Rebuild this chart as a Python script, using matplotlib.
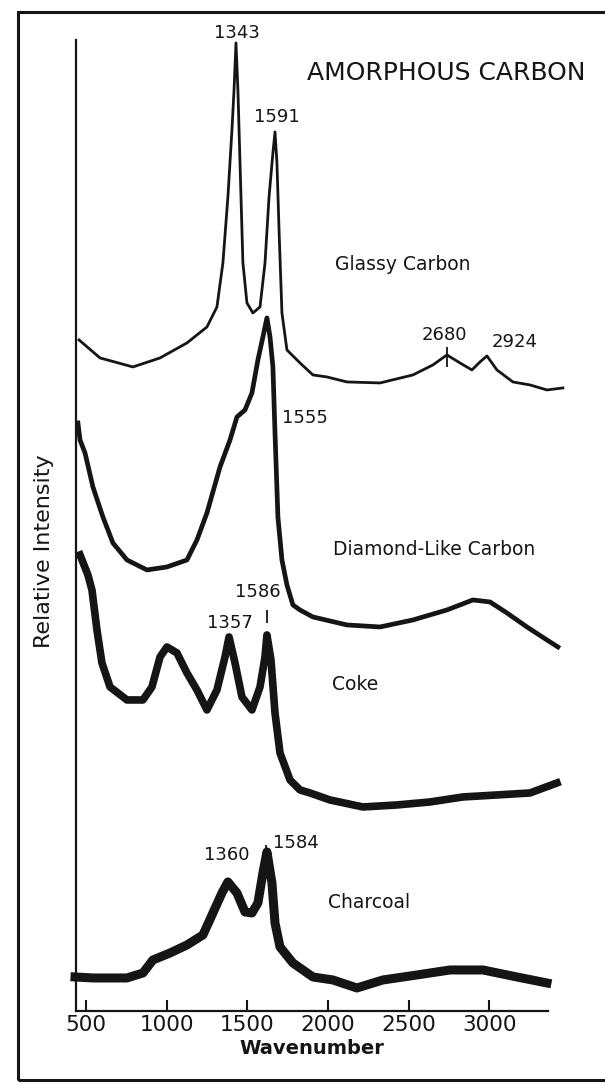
import matplotlib
matplotlib.use("Agg")
import matplotlib.pyplot as plt
from matplotlib.patches import Rectangle

# Raman spectra (stacked, arbitrary intensity units)
gc_wn = [457, 587, 791, 959, 1126, 1250, 1312, 1349, 1380, 1405, 1418, 1430, 1442, 1455,
         1473, 1498, 1535, 1579, 1610, 1635, 1659, 1672, 1684, 1697, 1715, 1746, 1827,
         1907, 1994, 2118, 2323, 2527, 2651, 2738, 2819, 2893, 2943, 2986, 3048, 3147,
         3253, 3358, 3457]
gc_int = [671, 653, 644, 653, 668, 684, 704, 748, 814, 881, 921, 968, 921, 848,
          748, 708, 698, 704, 748, 814, 858, 879, 848, 781, 698, 661, 648,
          636, 634, 629, 628, 636, 646, 656, 648, 641, 649, 655, 641, 629,
          626, 621, 623]

dlc_wn = [450, 463, 494, 543, 605, 667, 754, 878, 1002, 1126, 1188, 1250, 1331, 1393,
          1436, 1486, 1529, 1566, 1597, 1622, 1641, 1659, 1672, 1690, 1715, 1746, 1783,
          1827, 1907, 2118, 2323, 2527, 2738, 2899, 3005, 3110, 3234, 3358, 3426]
dlc_int = [588, 571, 558, 524, 494, 468, 451, 441, 444, 451, 471, 498, 544, 571,
           594, 601, 618, 651, 674, 693, 674, 644, 578, 494, 451, 426, 406,
           401, 394, 386, 384, 391, 401, 411, 409, 398, 384, 371, 364]

coke_wn = [463, 512, 537, 568, 599, 649, 754, 853, 909, 959, 1002, 1064, 1126, 1188,
           1250, 1312, 1362, 1387, 1424, 1467, 1529, 1579, 1610, 1622, 1647, 1672, 1703,
           1765, 1827, 1889, 2013, 2217, 2428, 2633, 2837, 3048, 3253, 3420]
coke_int = [456, 436, 421, 381, 348, 324, 311, 311, 324, 354, 364, 358, 338, 321,
            301, 321, 354, 374, 348, 314, 301, 324, 354, 376, 351, 298, 258,
            231, 221, 218, 211, 204, 206, 209, 214, 216, 218, 228]

char_wn = [432, 543, 754, 853, 915, 1021, 1126, 1225, 1287, 1343, 1380, 1436, 1486, 1529,
           1566, 1597, 1622, 1653, 1672, 1703, 1783, 1907, 2031, 2180, 2341, 2552, 2757,
           2961, 3172, 3358]
char_int = [34, 33, 33, 38, 51, 58, 66, 76, 98, 118, 129, 118, 99, 98,
            108, 138, 159, 128, 88, 64, 48, 34, 31, 23, 31, 36, 41,
            41, 34, 28]

sample_names = ["Glassy Carbon", "Diamond-Like Carbon", "Coke", "Charcoal"]
name_pos = [(2044, 746), (2031, 461), (2025, 326), (2000, 108)]

peak_labels = ["1343", "1591", "2680", "2924", "1555", "1586", "1357", "1360", "1584"]
peak_label_pos = [(1436, 978), (1684, 894), (2720, 676), (3160, 669), (1858, 593),
                  (1566, 419), (1393, 388), (1374, 156), (1802, 168)]

xticks = [500, 1000, 1500, 2000, 2500, 3000]

fig = plt.figure(figsize=(6.05, 10.88), dpi=100)
ax = fig.add_axes([0.1256, 0.0708, 0.780, 0.8925])

ink = "#151515"
ax.plot(gc_wn, gc_int, color=ink, lw=2.0, clip_on=False)
ax.plot(dlc_wn, dlc_int, color=ink, lw=3.4, clip_on=False)
ax.plot(coke_wn, coke_int, color=ink, lw=5.5, clip_on=False)
ax.plot(char_wn, char_int, color=ink, lw=6.5, clip_on=False)

# small marker lines above a few peaks
ax.vlines([1622, 2738, 1616], [388, 644, 158], [401, 664, 166], color=ink, lw=1.3)

for name, (x, y) in zip(sample_names, name_pos):
    ax.text(x, y, name, fontsize=13.5, ha="left", va="center", color=ink)

for lab, (x, y) in zip(peak_labels, peak_label_pos):
    ax.text(x, y, lab, fontsize=13, ha="center", va="center", color=ink, clip_on=False)

ax.text(2732, 938, "AMORPHOUS CARBON", fontsize=18, ha="center", va="center", color=ink)

ax.set_xlim(438, 3364)
ax.set_ylim(0, 971)
ax.set_xticks(xticks)
ax.set_xticklabels([str(t) for t in xticks], fontsize=15.5)
ax.set_yticks([])
ax.tick_params(axis="x", direction="in", length=8, width=1.5, pad=3, colors=ink)
for side in ["top", "right"]:
    ax.spines[side].set_visible(False)
for side in ["left", "bottom"]:
    ax.spines[side].set_linewidth(1.6)
    ax.spines[side].set_color(ink)

ax.set_xlabel("Wavenumber", fontsize=14, fontweight="semibold", labelpad=3, color=ink)
ax.set_ylabel("Relative Intensity", fontsize=16, color=ink)
ax.yaxis.set_label_coords(-0.047, 0.474)

# outer frame of the scanned figure
fig.patches.append(Rectangle((18 / 605, 8 / 1088), 600 / 605, 1068 / 1088,
                             transform=fig.transFigure, fill=False, lw=2.2,
                             edgecolor=ink))

fig.savefig("out.png", dpi=100)
